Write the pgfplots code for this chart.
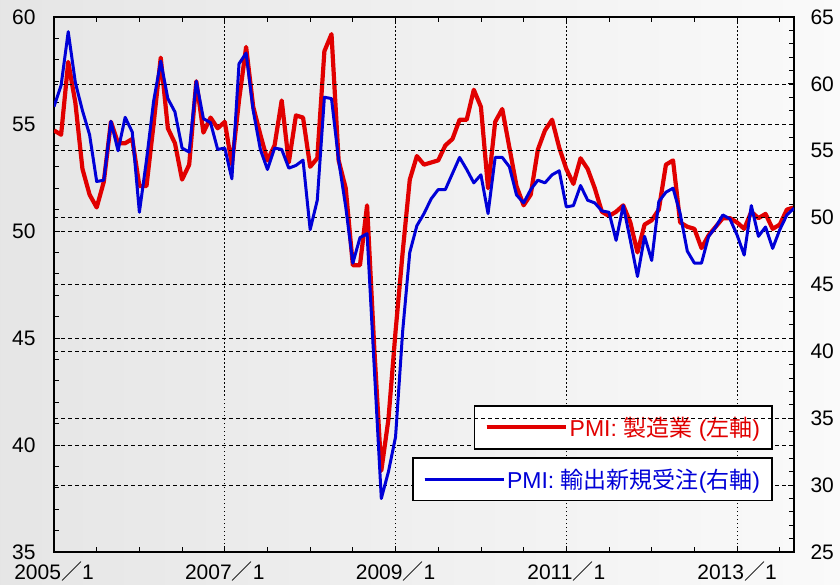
\documentclass[border=0pt]{standalone}
\usepackage{fontspec}
\setmainfont{Liberation Sans}
\newfontfamily\cjk{Noto Sans CJK JP}
\usepackage{pgfplots}
\usepackage{pgfplotstable}
\pgfplotsset{compat=1.18}
\definecolor{pmired}{RGB}{225,0,0}
\definecolor{pmiblue}{RGB}{0,0,215}

% month index (0 = 2005/1), manufacturing PMI (left), new export orders (right)
\pgfplotstableread{
m mfg exp
0 54.7 58.3
1 54.5 59.9
2 57.9 63.9
3 56.0 60.1
4 52.9 58.0
5 51.7 56.2
6 51.1 52.7
7 52.3 52.8
8 55.1 57.2
9 54.1 55.0
10 54.1 57.5
11 54.3 56.4
12 52.1 50.4
13 52.1 54.3
14 55.0 58.7
15 58.1 61.7
16 54.8 58.9
17 54.1 57.9
18 52.4 55.2
19 53.1 54.9
20 57.0 60.2
21 54.6 57.4
22 55.3 57.1
23 54.8 55.1
24 55.1 55.2
25 53.1 52.9
26 56.1 61.5
27 58.6 62.3
28 55.8 58.0
29 54.5 55.1
30 53.3 53.6
31 54.0 55.2
32 56.1 55.1
33 53.2 53.7
34 55.4 53.9
35 55.3 54.3
36 53.0 49.1
37 53.4 51.3
38 58.4 59.0
39 59.2 58.9
40 53.3 54.3
41 52.0 50.8
42 48.4 46.6
43 48.4 48.5
44 51.2 48.8
45 44.6 38.9
46 38.8 29.0
47 41.2 31.0
48 45.3 33.6
49 49.0 41.5
50 52.4 47.4
51 53.5 49.4
52 53.1 50.3
53 53.2 51.4
54 53.3 52.1
55 54.0 52.1
56 54.3 53.3
57 55.2 54.5
58 55.2 53.6
59 56.6 52.6
60 55.8 53.2
61 52.0 50.3
62 55.1 54.5
63 55.7 54.5
64 53.9 53.8
65 52.1 51.7
66 51.2 51.1
67 51.7 52.1
68 53.8 52.8
69 54.7 52.6
70 55.2 53.2
71 53.9 53.5
72 52.9 50.8
73 52.2 50.9
74 53.4 52.4
75 52.9 51.3
76 52.0 51.1
77 50.9 50.5
78 50.7 50.4
79 50.9 48.3
80 51.2 50.9
81 50.4 48.3
82 49.0 45.6
83 50.3 48.6
84 50.5 46.8
85 51.0 51.2
86 53.1 51.9
87 53.3 52.2
88 50.4 50.3
89 50.2 47.5
90 50.1 46.6
91 49.2 46.6
92 49.8 48.6
93 50.2 49.3
94 50.6 50.2
95 50.6 49.9
96 50.4 48.7
97 50.1 47.2
98 50.9 50.9
99 50.6 48.6
100 50.8 49.3
101 50.1 47.7
102 50.3 49.1
103 51.0 50.2
104 51.1 50.7
}\pmidata

\pgfplotsset{
  pmibase/.style={
    at={(54pt,32pt)}, anchor=south west,
    scale only axis, width=740pt, height=535pt,
    xmin=0, xmax=104,
    axis line style={line width=1.2pt},
    tick style={black, line width=0.8pt},
    major tick length=6pt, minor tick length=5pt,
    tick align=inside,
    tick label style={font=\fontsize{21}{23}\selectfont},
    /pgf/number format/assume math mode=true,
    ymajorgrids,
    y grid style={black, line width=0.7pt, dash pattern=on 4pt off 3pt},
    legend image code/.code={\draw[##1] (0pt,0pt) -- (73pt,0pt); \path (0pt,0pt) -- (79pt,0pt);},
    legend style={draw=black, line width=1.8pt, fill=white, anchor=north east,
      font=\fontsize{23}{25}\selectfont, inner xsep=10pt, inner ysep=9pt},
  },
}

\begin{document}
\begin{tikzpicture}[x=1pt,y=1pt]
\path[use as bounding box] (0,0) rectangle (840,584);
\shade[left color=black!10, right color=black!2] (0,0) rectangle (840,584);

\begin{axis}[pmibase,
  ymin=35, ymax=60, ytick={35,40,...,60}, minor y tick num=4,
  ytick pos=left,
  yticklabel style={xshift=-15pt},
  xtick={0,24,48,72,96},
  xticklabels={2005{\cjk ／}1,2007{\cjk ／}1,2009{\cjk ／}1,2011{\cjk ／}1,2013{\cjk ／}1},
  xticklabel style={yshift=-6pt},
  minor xtick={6,12,...,102},
  xmajorgrids,
  x grid style={black, line width=0.8pt, dash pattern=on 1.5pt off 2.5pt},
  legend style={at={(0.9716,0.2748)}},
]
\addplot[pmired, line width=4.2pt, line join=round] table[x=m, y=mfg] {\pmidata};
\addlegendentry{\textcolor{pmired}{PMI: {\cjk 製造業} ({\cjk 左軸})}}
\end{axis}

\begin{axis}[pmibase,
  ymin=25, ymax=65, ytick={25,30,...,65}, minor y tick num=4,
  axis y line*=right, hide x axis,
  yticklabel style={xshift=13pt},
  legend style={at={(0.9716,0.178)}},
]
\addplot[pmiblue, line width=3pt, line join=round] table[x=m, y=exp] {\pmidata};
\addlegendentry{\textcolor{pmiblue}{PMI: {\cjk 輸出新規受注}({\cjk 右軸})}}
\end{axis}
\end{tikzpicture}
\end{document}
